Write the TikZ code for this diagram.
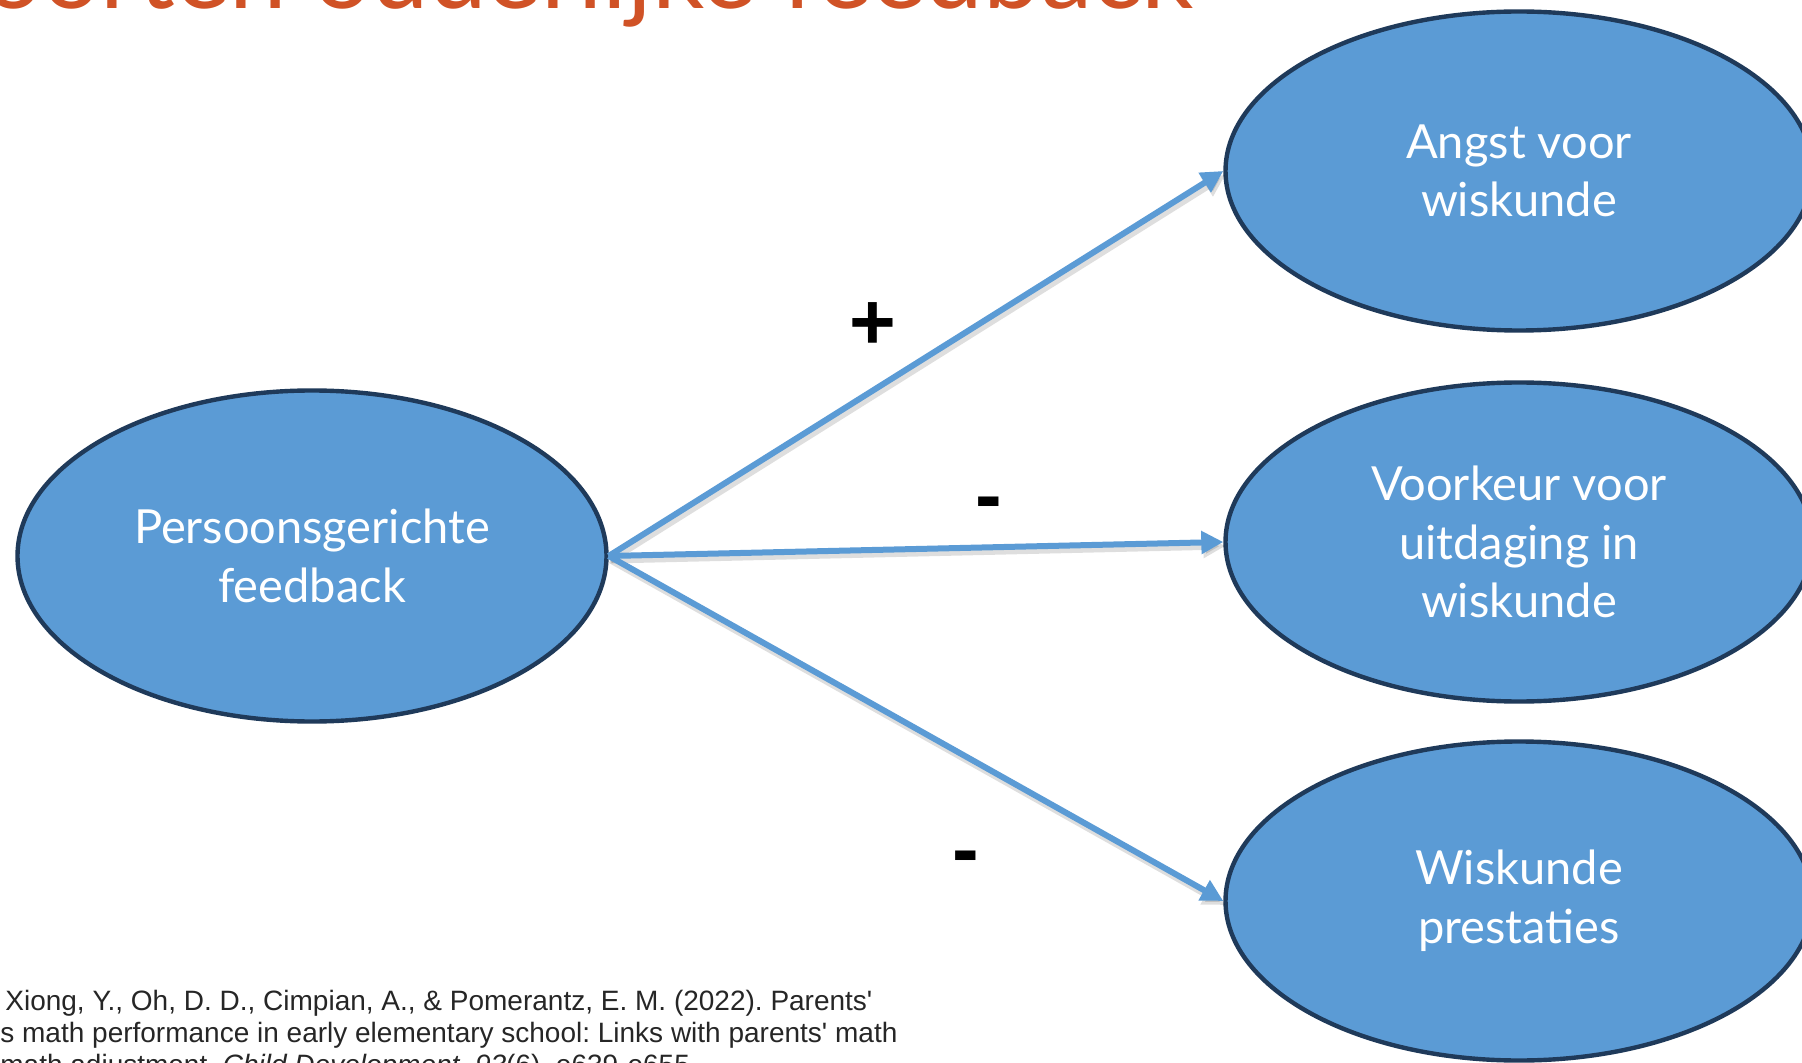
\documentclass[tikz,border=0pt]{standalone}
\usepackage{fontspec}
\setmainfont{Lato}
\newfontfamily\arialf{Liberation Sans}
\usetikzlibrary{shapes.geometric,arrows.meta}
\definecolor{ellfill}{HTML}{5B9BD5}
\definecolor{ellline}{HTML}{1F3A5A}
\definecolor{arrcol}{HTML}{5B9BD5}
\definecolor{titlecol}{HTML}{D05226}
\definecolor{citecol}{HTML}{262626}
\tikzset{
  ell/.style={ellipse, draw=ellline, line width=2.2pt, fill=ellfill, inner sep=0pt,
    text=white, align=center, font=\fontsize{23.5}{29.3}\selectfont},
  leftell/.style={ell, minimum width=294.5pt, minimum height=165.5pt},
  rightell/.style={ell, minimum width=293.5pt, minimum height=159.5pt},
  arr/.style={draw=arrcol, line width=3pt, -{Triangle[length=11pt,width=11pt]}},
  shadowline/.style={draw=black, opacity=0.13, line width=3.5pt, -{Triangle[length=11pt,width=11pt]}},
  sign/.style={font=\arialf\bfseries\fontsize{40}{40}\selectfont, inner sep=0pt, anchor=base},
  cite/.style={font=\arialf\fontsize{14}{16}\selectfont\frenchspacing, text=citecol, inner sep=0pt, anchor=base west},
}
\begin{document}
\begin{tikzpicture}[x=0.5pt,y=-0.5pt]
\useasboundingbox (0,0) rectangle (1802,1063);
\clip (0,0) rectangle (1802,1063);
\fill[white] (0,0) rectangle (1802,1063);

% title (cut off at top)
\node[anchor=base east, text=titlecol, font=\fontsize{51.5}{51.5}\selectfont, inner sep=0pt] (title) at (1194,9) {Soorten ouderlijke feedback};

% ellipses
\node[leftell] (pf) at (312,556) {Persoonsgerichte\\feedback};
\node[rightell] (angst) at (1519,171) {Angst voor\\wiskunde};
\node[rightell] (voork) at (1519,542) {Voorkeur voor\\uitdaging in\\wiskunde};
\node[rightell] (prest) at (1519,901) {Wiskunde\\prestaties};

% arrow shadows
\draw[shadowline] ([shift={(2,4)}]pf.east) -- ([shift={(2,4)}]angst.west);
\draw[shadowline] ([shift={(2,4)}]pf.east) -- ([shift={(2,4)}]voork.west);
\draw[shadowline] ([shift={(2,4)}]pf.east) -- ([shift={(2,4)}]prest.west);
% arrows
\draw[arr] (pf.east) -- (angst.west);
\draw[arr] (pf.east) -- (voork.west);
\draw[arr] (pf.east) -- (prest.west);

% signs
\node[sign] (plus) at (873,350) {+};
\node[sign] (min1) at (989,522) {-};
\node[sign] (min2) at (966,876) {-};

% citation (cut off at left and bottom)
\node[cite] (c1) at (5,1010) {Xiong, Y., Oh, D. D., Cimpian, A., \& Pomerantz, E. M. (2022). Parents\textquotesingle};
\node[cite] (c2) at (0,1042) {s math performance in early elementary school: Links with parents\textquotesingle{} math};
\node[cite] (c3) at (0,1074) {math adjustment. \textit{Child Development, 93}(6), e639-e655.};
\end{tikzpicture}
\end{document}
